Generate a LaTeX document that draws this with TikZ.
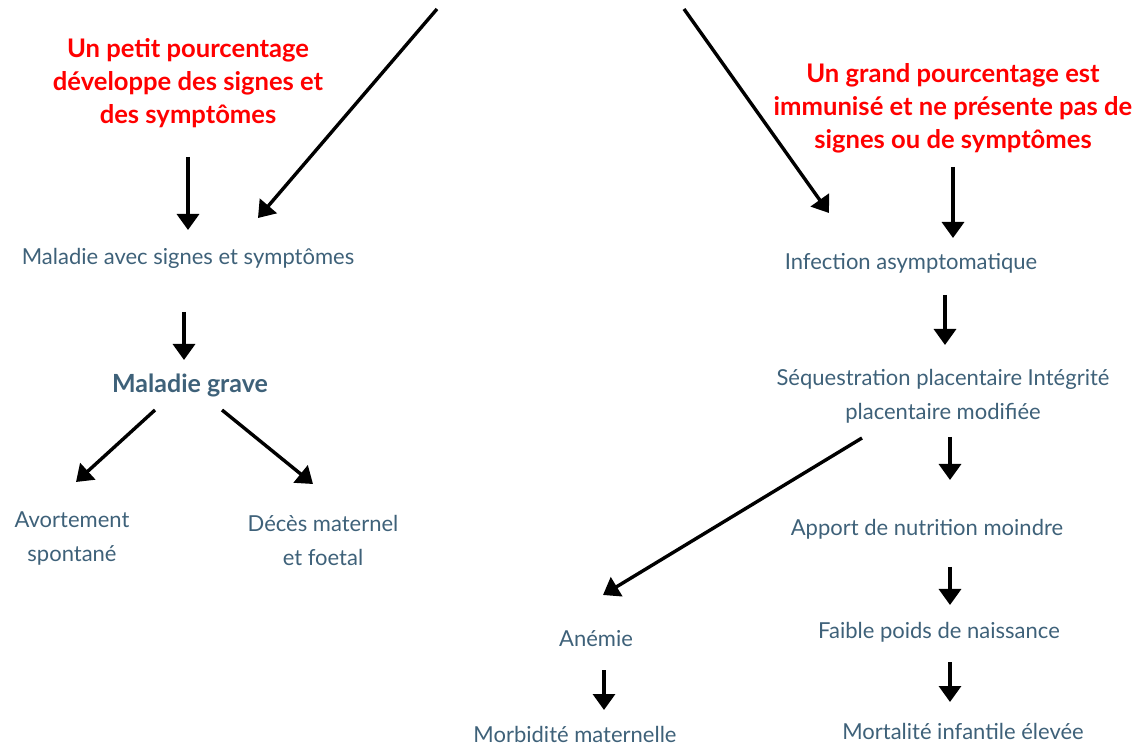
\documentclass[tikz,border=0pt]{standalone}
\usepackage{fontspec}
\setmainfont{Lato}
\usetikzlibrary{arrows.meta}
\usetikzlibrary{calc}
\definecolor{slate}{HTML}{3E6179}
\definecolor{alert}{HTML}{FF0000}

\begin{document}
\begin{tikzpicture}[x=0.5pt, y=-0.5pt,
		txt/.style={text=slate, font=\fontsize{11}{17}\selectfont, align=center, inner sep=0pt},
		hot/.style={text=alert, font=\bfseries\fontsize{12.8}{16.5}\selectfont, align=center, inner sep=0pt},
		arr/.style={line width=1.7pt, -{Triangle[width=11pt,length=8pt]}}]
	\useasboundingbox (0,0) rectangle (1136,748);
	% red headings
	\node[hot] (redL) at (188,83) {Un petit pourcentage\\développe des signes et\\des symptômes};
	\node[hot] (redR) at (953,108) {Un grand pourcentage est\\immunisé et ne présente pas de\\signes ou de symptômes};
	\coordinate (topL) at (437,9);
	\coordinate (topR) at (684,9);
	% left branch
	\node[txt] (sympt) at (188,258) {Maladie avec signes et symptômes};
	\node[txt, font=\bfseries\fontsize{12.5}{17}\selectfont] (grave) at (190,385) {Maladie grave};
	\node[txt] (avort) at (72,539) {Avortement\\spontané};
	\node[txt] (deces) at (323,540) {Décès maternel\\et foetal};
	% right branch
	\node[txt] (infect) at (911,263) {Infection asymptomatique};
	\node[txt] (sequest) at (943,396) {Séquestration placentaire Intégrité\\placentaire modifiée};
	\node[txt] (apport) at (927,529) {Apport de nutrition moindre};
	\node[txt] (faible) at (939,632) {Faible poids de naissance};
	\node[txt] (mortal) at (963,731) {Mortalité infantile élevée};
	\node[txt] (anemie) at (596,639) {Anémie};
	\node[txt] (morbid) at (575,734) {Morbidité maternelle};
	% arrows
	\draw[arr] (topL) -- ($(sympt)+(70,-40)$);
	\draw[arr] (topR) -- ($(infect)+(-82,-50)$);
	\draw[arr] ($(redL)+(0,74)$) -- ($(sympt)+(0,-28)$);
	\draw[arr] ($(redR)+(0,59)$) -- ($(infect)+(42,-25)$);
	\draw[arr] ($(sympt)+(-4,54)$) -- ($(grave)+(-6,-25)$);
	\draw[arr] ($(grave)+(-35,25)$) -- ($(avort)+(4,-57)$);
	\draw[arr] ($(grave)+(32,25)$) -- ($(deces)+(-10,-56)$);
	\draw[arr] ($(infect)+(34,32)$) -- ($(sequest)+(2,-51)$);
	\draw[arr] ($(sequest)+(7,41)$) -- ($(apport)+(23,-49)$);
	\draw[arr] ($(sequest)+(-81,42)$) -- ($(anemie)+(7,-44)$);
	\draw[arr] ($(apport)+(23,38)$) -- ($(faible)+(11,-27)$);
	\draw[arr] ($(faible)+(11,30)$) -- ($(mortal)+(-13,-29)$);
	\draw[arr] ($(anemie)+(8,31)$) -- ($(morbid)+(29,-24)$);
\end{tikzpicture}
\end{document}
